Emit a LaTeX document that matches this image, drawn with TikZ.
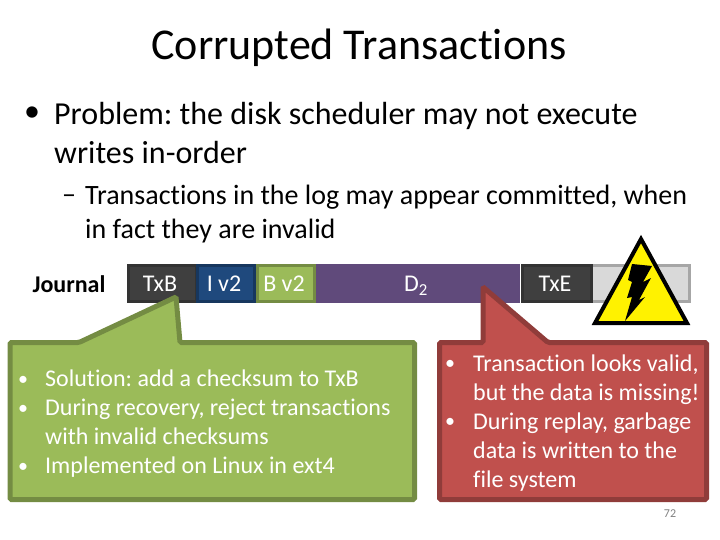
\documentclass[tikz,border=0pt]{standalone}
\usepackage{fontspec}
\setmainfont[Ligatures=NoCommon]{Carlito}
\usepackage{xcolor}
\usetikzlibrary{calc,positioning}
\definecolor{logdark}{HTML}{3F3F3F}
\definecolor{logblue}{HTML}{1F497D}
\definecolor{loggreen}{HTML}{9BBB59}
\definecolor{logpurple}{HTML}{604A7B}
\definecolor{loggrey}{HTML}{D9D9D9}
\definecolor{callred}{HTML}{C0504D}
\tikzset{
  slot/.style={draw=#1!75!black,fill=#1,line width=3pt,minimum height=36pt,inner sep=0pt,anchor=west,text=white,font=\fontsize{24}{29}\selectfont,execute at end node={\hspace{4pt}}},
  callgreen/.style={draw=loggreen!75!black,fill=loggreen,line width=5pt,rounded corners=1.5pt},
  callredbox/.style={draw=callred!75!black,fill=callred,line width=5pt,rounded corners=1.5pt},
  bigtext/.style={anchor=west,inner sep=0pt,align=left,font=\fontsize{32}{39}\selectfont},
  subtext/.style={anchor=west,inner sep=0pt,align=left,font=\fontsize{28}{34}\selectfont},
  calltext/.style={anchor=north west,inner sep=0pt,align=left,text=white,font=\fontsize{24}{29}\selectfont},
  callbullet/.style={anchor=north west,inner sep=0pt,align=left,text=white,font=\fontsize{20}{29}\selectfont},
}
\begin{document}
\frenchspacing
\begin{tikzpicture}[x=1pt,y=-1pt]
  \useasboundingbox (0,0) rectangle (720,540);
  \node[font=\fontsize{44}{53}\selectfont] (title) at (359,48) {Corrupted Transactions};
  \node[bigtext] (bulletA) at (24,114) {•};
  \node[bigtext] (problem) at (54,133.5) {Problem: the disk scheduler may not execute\\writes in-order};
  \node[subtext] (dashA) at (62,199) {\textendash};
  \node[subtext] (commit) at (85,214) {Transactions in the log may appear committed, when\\in fact they are invalid};
  \node[font=\bfseries\fontsize{24}{29}\selectfont,inner sep=0pt] (journal) at (69,284) {Journal};
  % the log
  \node[slot=logdark,draw=black!80,minimum width=68pt] (txb) at (126.5,283.5) {TxB};
  \node[slot=logblue,minimum width=57pt] (iv) at (196,283.5) {I v2};
  \node[slot=loggreen,minimum width=57pt] (bv) at (256,283.5) {B v2};
  \node[slot=logpurple,minimum width=201pt,draw=logpurple] (data) at (316,283.5) {\raisebox{-8pt}[0pt][0pt]{D\textsubscript{2}}};
  \node[slot=loggrey,draw=black!35,minimum width=99.5pt] (free) at (588,283.5) {};
  \node[slot=logdark,draw=black!80,minimum width=69pt] (txe) at (521,283.5) {TxE};
  % warning sign
  \draw[line width=4pt,line join=miter,fill=yellow] (641,239) -- (687,323) -- (595,323) -- cycle;
  \fill[black] (632,264) -- (652,266) -- (643,282) -- (651,278) -- (639,300) -- (645,297) -- (625,321)
    -- (632,297) -- (627,298) -- (632,282) -- (628,280) -- cycle;
  % callouts
  \draw[callgreen] (10,342.5) -- (79,342.5) -- (176,297) -- (180,342.5) -- (414.5,342.5) -- (414.5,499.5) -- (10,499.5) -- cycle;
  \draw[callredbox] (439.5,342.5) -- (483,342.5) -- (483,287) -- (548,342.5) -- (706.5,342.5) -- (706.5,499.5) -- (439.5,499.5) -- cycle;
  \node[callbullet] (greenbul) at (18,376) {•\\•\\\\•};
  \node[calltext] (greentext) at (45,370) {Solution: add a checksum to TxB\\During recovery, reject transactions\\with invalid checksums\\Implemented on Linux in ext4};
  \node[callbullet] (redbul) at (445,360) {•\\\\•};
  \node[calltext] (redtext) at (473,354.5) {Transaction looks valid,\\but the data is missing!\\During replay, garbage\\data is written to the\\file system};
  \node[text=gray,font=\fontsize{12}{14}\selectfont] (pagenum) at (670,514) {72};
\end{tikzpicture}
\end{document}
